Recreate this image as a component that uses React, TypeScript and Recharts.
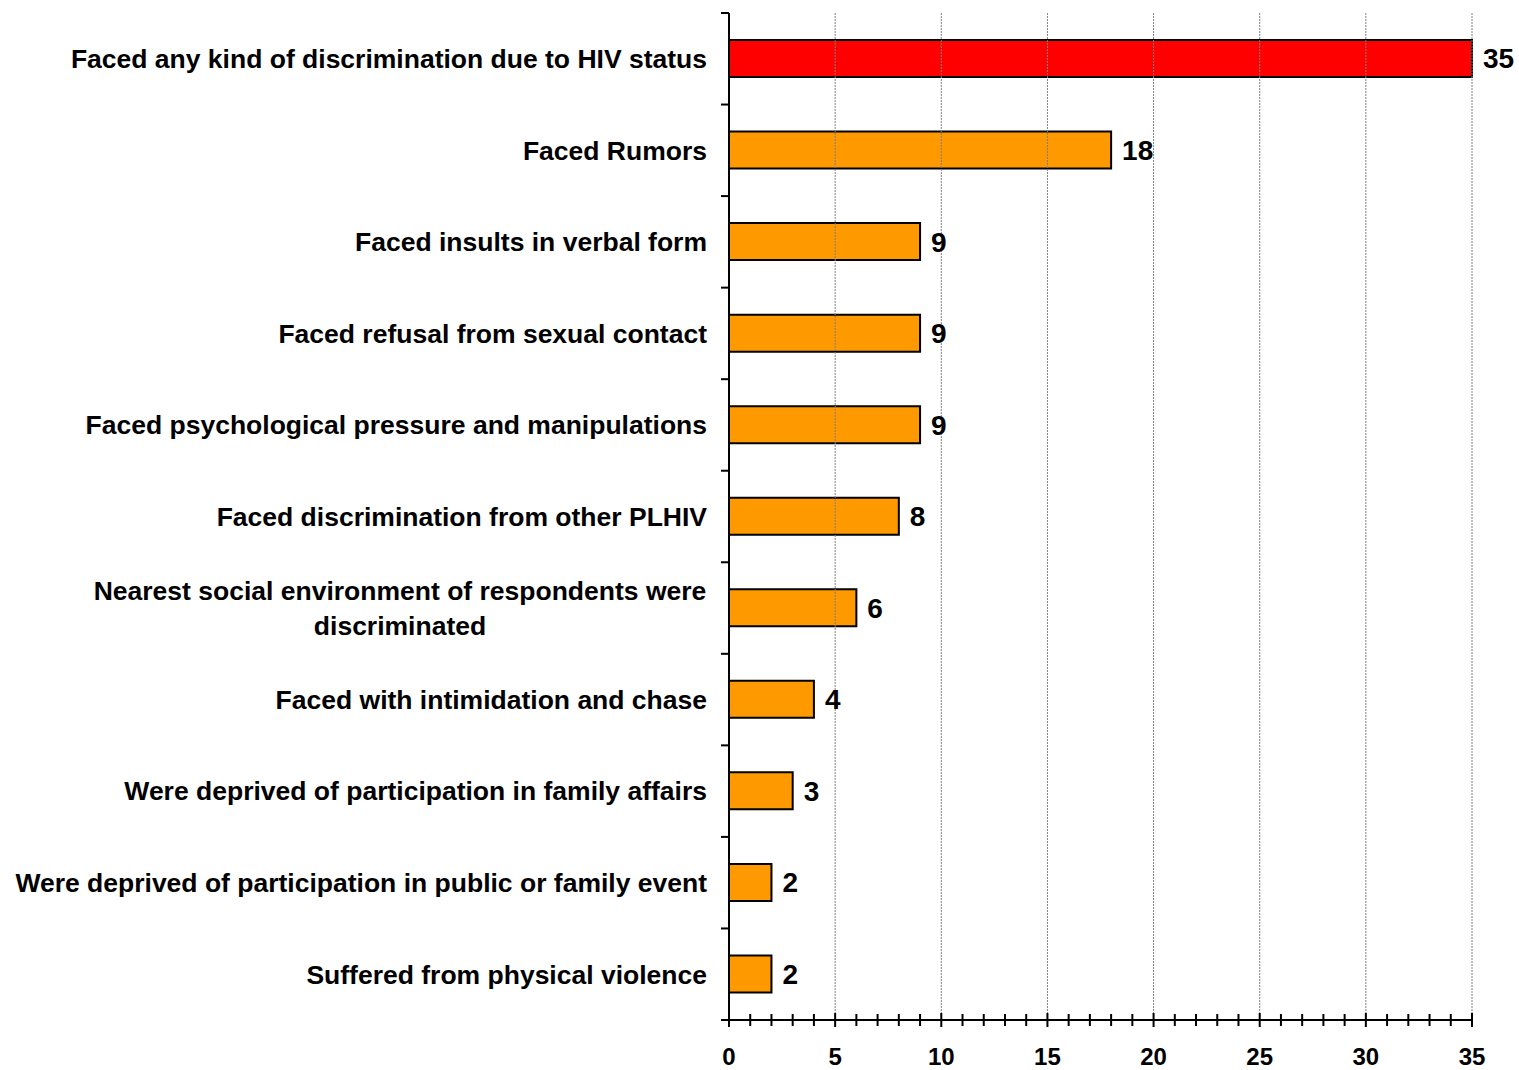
import { BarChart, Bar, XAxis, YAxis, Cell, LabelList, ReferenceLine } from 'recharts'

const categories = [
  'Faced any kind of discrimination due to HIV status',
  'Faced Rumors',
  'Faced insults in verbal form',
  'Faced refusal from sexual contact',
  'Faced psychological pressure and manipulations',
  'Faced discrimination from other PLHIV',
  'Nearest social environment of respondents were\ndiscriminated',
  'Faced with intimidation and chase',
  'Were deprived of participation in family affairs',
  'Were deprived of participation in public or family event',
  'Suffered from physical violence',
]
const values = [35, 18, 9, 9, 9, 8, 6, 4, 3, 2, 2]
const barColors = ['#FF0000', '#FF9900', '#FF9900', '#FF9900', '#FF9900', '#FF9900', '#FF9900', '#FF9900', '#FF9900', '#FF9900', '#FF9900']
const majorTicks = [0, 5, 10, 15, 20, 25, 30, 35]
const allTicks = [0, 1, 2, 3, 4, 5, 6, 7, 8, 9, 10, 11, 12, 13, 14, 15, 16, 17, 18, 19, 20, 21, 22, 23, 24, 25, 26, 27, 28, 29, 30, 31, 32, 33, 34, 35]

const data = categories.map((name, i) => ({ name, value: values[i], color: barColors[i] }))

const W = 1519
const H = 1070
const TOP = 13
const BOTTOM = 1020
const band = (BOTTOM - TOP) / categories.length
const font = '"Liberation Sans", Arial, sans-serif'

const XTick = (props: any) => {
  const { x, y, payload } = props
  const major = payload.value % 5 === 0
  return (
    <g>
      <line x1={x} x2={x} y1={y - (major ? 7 : 6)} y2={y + (major ? 7 : 6)} stroke="#000" strokeWidth={2} />
      {major && (
        <text x={x} y={y + 45} textAnchor="middle" fontFamily={font} fontWeight="bold" fontSize={24} fill="#000">
          {payload.value}
        </text>
      )}
    </g>
  )
}

const YTick = (props: any) => {
  const { x, y, payload, index } = props
  const lines = String(payload.value).split('\n')
  const last = index === categories.length - 1
  return (
    <g>
      <line x1={x - 8} x2={x} y1={y - band / 2} y2={y - band / 2} stroke="#000" strokeWidth={2} />
      {last && <line x1={x - 8} x2={x} y1={y + band / 2} y2={y + band / 2} stroke="#000" strokeWidth={2} />}
      {lines.length === 1 ? (
        <text x={x - 22} y={y} dy="0.35em" textAnchor="end" fontFamily={font} fontWeight="bold" fontSize={26.5} fill="#000">
          {lines[0]}
        </text>
      ) : (
        <text textAnchor="middle" fontFamily={font} fontWeight="bold" fontSize={26.5} fill="#000">
          {lines.map((l, i) => (
            <tspan key={i} x={400} y={y + (i - (lines.length - 1) / 2) * 35} dy="0.35em">
              {l}
            </tspan>
          ))}
        </text>
      )}
    </g>
  )
}

export default function App() {
  return (
    <div style={{ position: 'absolute', left: 0, top: 0, width: W, height: H, background: '#fff' }}>
      <BarChart
        width={W}
        height={H}
        data={data}
        layout="vertical"
        margin={{ top: TOP, right: 47, bottom: 0, left: 0 }}
        barCategoryGap={0}
      >
        {majorTicks.map((t) => (
          <ReferenceLine key={t} x={t} stroke="#808080" strokeWidth={1} strokeDasharray="2 1" />
        ))}
        <XAxis
          type="number"
          domain={[0, 35]}
          ticks={allTicks}
          interval={0}
          height={H - BOTTOM}
          axisLine={{ stroke: '#000', strokeWidth: 2 }}
          tickLine={false}
          tickSize={0}
          tickMargin={0}
          tick={<XTick />}
        />
        <YAxis
          type="category"
          dataKey="name"
          width={729}
          interval={0}
          axisLine={{ stroke: '#000', strokeWidth: 2 }}
          tickLine={false}
          tickSize={0}
          tickMargin={0}
          tick={<YTick />}
        />
        <Bar dataKey="value" barSize={37} stroke="#000" strokeWidth={2} isAnimationActive={false}>
          {data.map((d, i) => (
            <Cell key={i} fill={d.color} />
          ))}
          <LabelList
            dataKey="value"
            position="right"
            offset={11}
            style={{ fontFamily: font, fontWeight: 'bold', fontSize: 28, fill: '#000' }}
          />
        </Bar>
      </BarChart>
    </div>
  )
}
